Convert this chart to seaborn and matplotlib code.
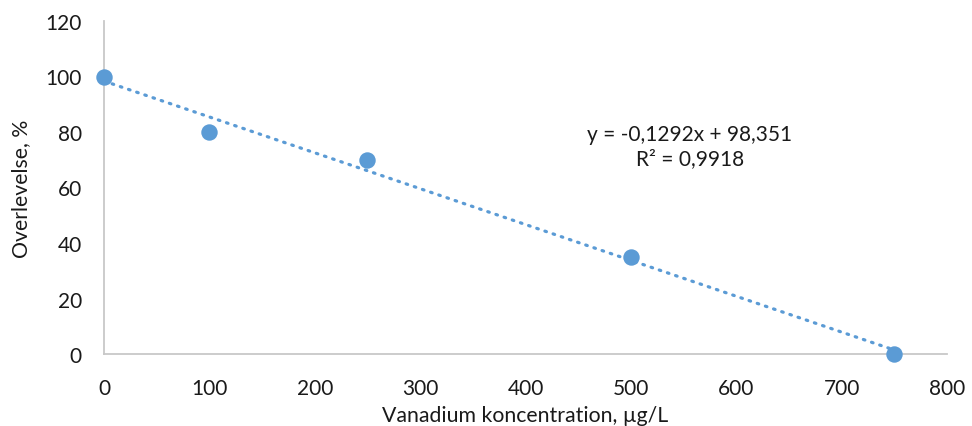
import matplotlib
matplotlib.use("Agg")
import matplotlib.pyplot as plt
import seaborn as sns
import pandas as pd
import numpy as np

concentration = [0, 100, 250, 500, 750]
survival = [100, 80, 70, 35, 0]
x_ticks = [0, 100, 200, 300, 400, 500, 600, 700, 800]
y_ticks = [0, 20, 40, 60, 80, 100, 120]
x_label = "Vanadium koncentration, µg/L"
y_label = "Overlevelse, %"
eq_text = "y = -0,1292x + 98,351\nR² = 0,9918"

sns.set_theme(style="white")
plt.rcParams['font.family'] = ['Lato', 'DejaVu Sans']

df = pd.DataFrame({"x": concentration, "y": survival})
color = "#5B9BD5"

fig = plt.figure(figsize=(9.72, 4.27), dpi=100)
ax = fig.add_axes([104/972, 1-355/427, (947-104)/972, (355-22)/427])

sns.regplot(data=df, x="x", y="y", ax=ax, ci=None, color=color,
            scatter_kws=dict(s=140, alpha=1, linewidths=0, zorder=3, clip_on=False),
            line_kws=dict(lw=2.3, linestyle=(0, (0.5, 2.2)),
                          dash_capstyle='round', zorder=2))

ax.set_xlim(0, 800)
ax.set_ylim(0, 120)
ax.set_xticks(x_ticks)
ax.set_yticks(y_ticks)
ax.tick_params(axis='both', length=0, labelsize=15, colors='#1a1a1a')
ax.tick_params(axis='y', pad=16)
ax.tick_params(axis='x', pad=17)
for sp in ['top', 'right']:
    ax.spines[sp].set_visible(False)
for sp in ['left', 'bottom']:
    ax.spines[sp].set_color('#C8C8C8')
    ax.spines[sp].set_linewidth(1.3)

ax.set_xlabel(x_label, fontsize=15.3, color='#1a1a1a', labelpad=5)
ax.set_ylabel(y_label, fontsize=15.3, color='#1a1a1a', labelpad=10)

fig.text(690/972, 1-147/427, eq_text, ha='center', va='center',
         fontsize=15, color='#1a1a1a', linespacing=1.3)

fig.savefig("out.png", dpi=100)
